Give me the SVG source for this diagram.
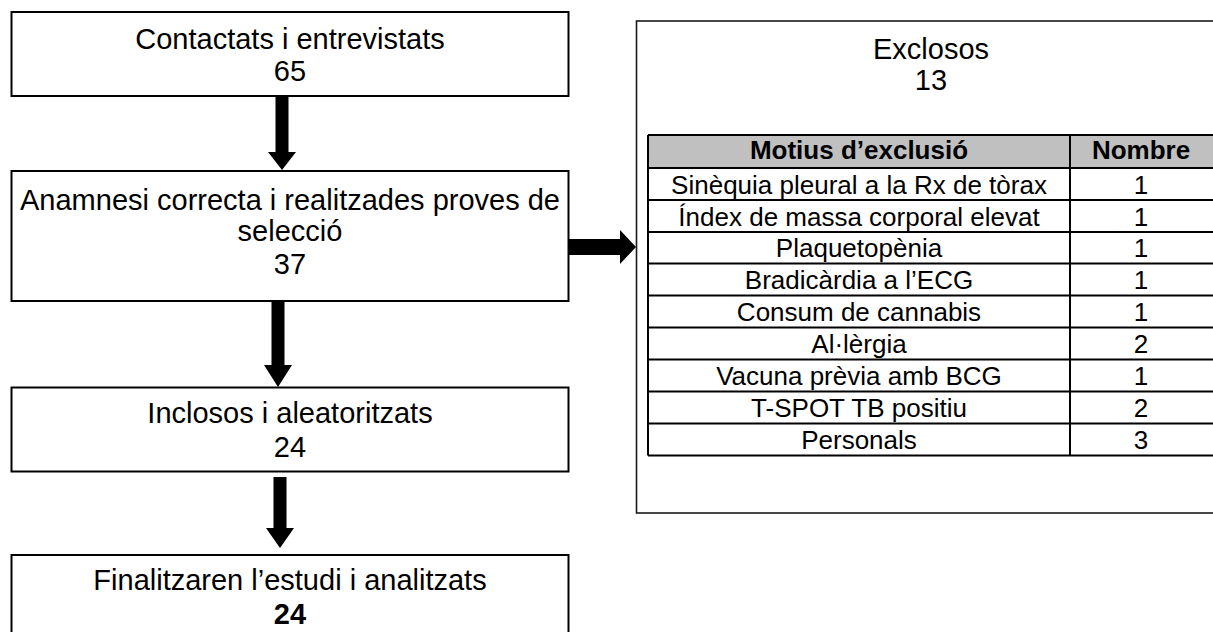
<svg xmlns="http://www.w3.org/2000/svg" width="1213" height="632" viewBox="0 0 1213 632">
<style>
.box{fill:#fff;stroke:#000;stroke-width:2}
.outer{fill:#fff;stroke:#1a1a1a;stroke-width:1.6}
.t{font-family:"Liberation Sans",Arial,sans-serif;font-size:29px;text-anchor:middle;fill:#000}
.tb{font-family:"Liberation Sans",Arial,sans-serif;font-size:26px;text-anchor:middle;fill:#000}
.hd{font-weight:bold}
.ln{stroke:#000;stroke-width:2;fill:none}
.arr{fill:#000;stroke:none}
</style>
<rect width="1213" height="632" fill="#fff"/>
<g id="n1">
<rect class="box" x="11.5" y="12" width="557" height="84"/>
<text class="t" x="290" y="48.5">Contactats i entrevistats</text>
<text class="t" x="290" y="81">65</text>
</g>
<g id="n2">
<rect class="box" x="11.5" y="171" width="557" height="130"/>
<text class="t" x="290" y="209.5">Anamnesi correcta i realitzades proves de</text>
<text class="t" x="290" y="241">selecció</text>
<text class="t" x="290" y="273.5">37</text>
</g>
<g id="n3">
<rect class="box" x="11.5" y="387.5" width="557" height="84"/>
<text class="t" x="290" y="423">Inclosos i aleatoritzats</text>
<text class="t" x="290" y="457">24</text>
</g>
<g id="n4">
<rect class="box" x="11.5" y="555" width="557" height="90"/>
<text class="t" x="290" y="590">Finalitzaren l’estudi i analitzats</text>
<text class="t hd" x="290" y="623.5">24</text>
</g>
<g id="n5">
<rect class="outer" x="636.5" y="21" width="600" height="492"/>
<text class="t" x="931" y="58.5">Exclosos</text>
<text class="t" x="931" y="89.5">13</text>
<rect x="648" y="135" width="570" height="33" fill="#c0c0c0"/>
<path class="ln" d="M648,135H1218M648,168H1218M648,200H1218M648,232H1218M648,263.5H1218M648,295.5H1218M648,327.5H1218M648,359.5H1218M648,391.5H1218M648,423.5H1218M648,455.5H1218M648,135V455.5M1070,135V455.5"/>
<text class="tb hd" x="859" y="159">Motius d’exclusió</text>
<text class="tb hd" x="1141" y="159">Nombre</text>
<text class="tb" x="859" y="193.5">Sinèquia pleural a la Rx de tòrax</text>
<text class="tb" x="1141" y="193.5">1</text>
<text class="tb" x="859" y="225.5">Índex de massa corporal elevat</text>
<text class="tb" x="1141" y="225.5">1</text>
<text class="tb" x="859" y="257">Plaquetopènia</text>
<text class="tb" x="1141" y="257">1</text>
<text class="tb" x="859" y="289">Bradicàrdia a l’ECG</text>
<text class="tb" x="1141" y="289">1</text>
<text class="tb" x="859" y="321">Consum de cannabis</text>
<text class="tb" x="1141" y="321">1</text>
<text class="tb" x="859" y="353">Al·lèrgia</text>
<text class="tb" x="1141" y="353">2</text>
<text class="tb" x="859" y="385">Vacuna prèvia amb BCG</text>
<text class="tb" x="1141" y="385">1</text>
<text class="tb" x="859" y="417">T-SPOT TB positiu</text>
<text class="tb" x="1141" y="417">2</text>
<text class="tb" x="859" y="449">Personals</text>
<text class="tb" x="1141" y="449">3</text>
</g>
<g id="connectors">
<polygon class="arr" points="275.5,97 288.5,97 288.5,152 296,152 282,170 268,152 275.5,152"/>
<polygon class="arr" points="271.5,301 284.5,301 284.5,365 292,365 278,387 264,365 271.5,365"/>
<polygon class="arr" points="273.5,477 286.5,477 286.5,528 294,528 280,548 266,528 273.5,528"/>
<polygon class="arr" points="569,239 620,239 620,230 636,247 620,264 620,255 569,255"/>
</g>
</svg>
